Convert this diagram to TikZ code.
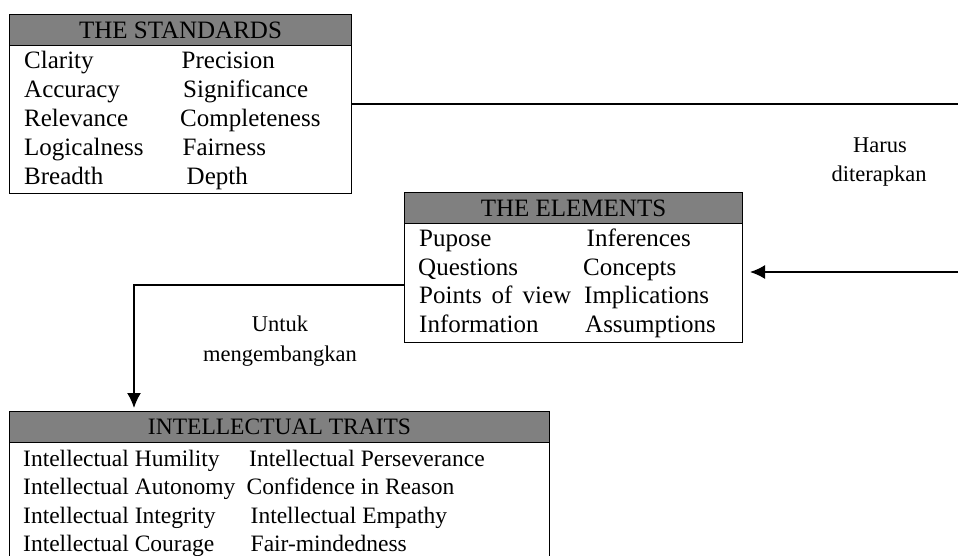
\documentclass[tikz,border=0pt]{standalone}
\usepackage{fontspec}
\setmainfont{Liberation Serif}
\usetikzlibrary{arrows.meta}
\definecolor{headgray}{HTML}{808080}
\tikzset{
  x=1pt, y=1pt,
  frame/.style={draw=black, line width=1pt, fill=white, inner sep=0pt, anchor=north west},
  headbox/.style={draw=black, line width=1pt, fill=headgray, inner sep=0pt, anchor=north west,
    minimum height=31pt, text height=16pt, text depth=0pt,
    font=\fontsize{25}{29}\selectfont},
  headsm/.style={headbox, text height=15.5pt, font=\fontsize{23.5}{28}\selectfont},
  item/.style={anchor=base west, inner sep=0pt, font=\fontsize{25}{29}\selectfont},
  itemsm/.style={item, font=\fontsize{23.5}{28}\selectfont},
  lbl/.style={anchor=base, inner sep=0pt, font=\fontsize{22.5}{27}\selectfont},
  conn/.style={draw=black, line width=1.6pt},
  tipped/.style={conn, -{Latex[length=15pt,width=14pt]}}
}
\begin{document}
\begin{tikzpicture}
\useasboundingbox (0,0) rectangle (958,-555);
\clip (0,0) rectangle (958,-555);
% THE STANDARDS
\node[frame, minimum width=342pt, minimum height=179pt] (std) at (9,-14) {};
\node[headbox, minimum width=342pt] (stdh) at (9,-14) {THE STANDARDS};
\node[item] (s1) at (24,-68) {Clarity};
\node[item] (s2) at (24,-97) {Accuracy};
\node[item] (s3) at (24,-126) {Relevance};
\node[item] (s4) at (24,-155) {Logicalness};
\node[item] (s5) at (24,-184) {Breadth};
\node[item] (s6) at (181.5,-68) {Precision};
\node[item] (s7) at (183,-97) {Significance};
\node[item] (s8) at (180,-126) {Completeness};
\node[item] (s9) at (182.5,-155) {Fairness};
\node[item] (s10) at (186.5,-184) {Depth};
% THE ELEMENTS
\node[frame, minimum width=338pt, minimum height=150pt] (el) at (404,-192) {};
\node[headbox, minimum width=338pt] (elh) at (404,-192) {THE ELEMENTS};
\node[item] (e1) at (419,-246) {Pupose};
\node[item] (e2) at (418,-275) {Questions};
\node[item] (e3) at (419,-303.5) {\spaceskip=10pt Points of view};
\node[item] (e4) at (419,-332) {Information};
\node[item] (e5) at (586.5,-246) {Inferences};
\node[item] (e6) at (583,-275) {Concepts};
\node[item] (e7) at (584,-303.5) {Implications};
\node[item] (e8) at (585,-332) {Assumptions};
% INTELLECTUAL TRAITS
\node[frame, minimum width=540pt, minimum height=170pt] (tr) at (9,-411) {};
\node[headsm, minimum width=540pt] (trh) at (9,-411) {INTELLECTUAL TRAITS};
\node[itemsm] (t1) at (23,-466) {Intellectual Humility};
\node[itemsm] (t2) at (23,-494.5) {Intellectual Autonomy};
\node[itemsm] (t3) at (23,-523) {Intellectual Integrity};
\node[itemsm] (t4) at (23,-551.5) {Intellectual Courage};
\node[itemsm] (t5) at (249,-466) {Intellectual Perseverance};
\node[itemsm] (t6) at (246.5,-494.5) {Confidence in Reason};
\node[itemsm] (t7) at (250.5,-523) {Intellectual Empathy};
\node[itemsm] (t8) at (250.5,-551.5) {Fair-mindedness};
% connectors
\coordinate (rtop) at (965,-104);
\coordinate (rin) at (965,-272);
\coordinate (turn) at (134,-285);
\draw[conn] (std.east |- rtop) -- (rtop);
\draw[tipped] (rin) -- ([xshift=7pt]el.east |- rin);
\draw[tipped] (el.west |- turn) -- (turn) -- ([yshift=3pt]turn |- trh.north);
% labels
\node[lbl] (l1) at (880,-152) {Harus};
\node[lbl] (l2) at (879,-181) {diterapkan};
\node[lbl] (l3) at (280,-331) {Untuk};
\node[lbl] (l4) at (280,-361) {mengembangkan};
\end{tikzpicture}
\end{document}
